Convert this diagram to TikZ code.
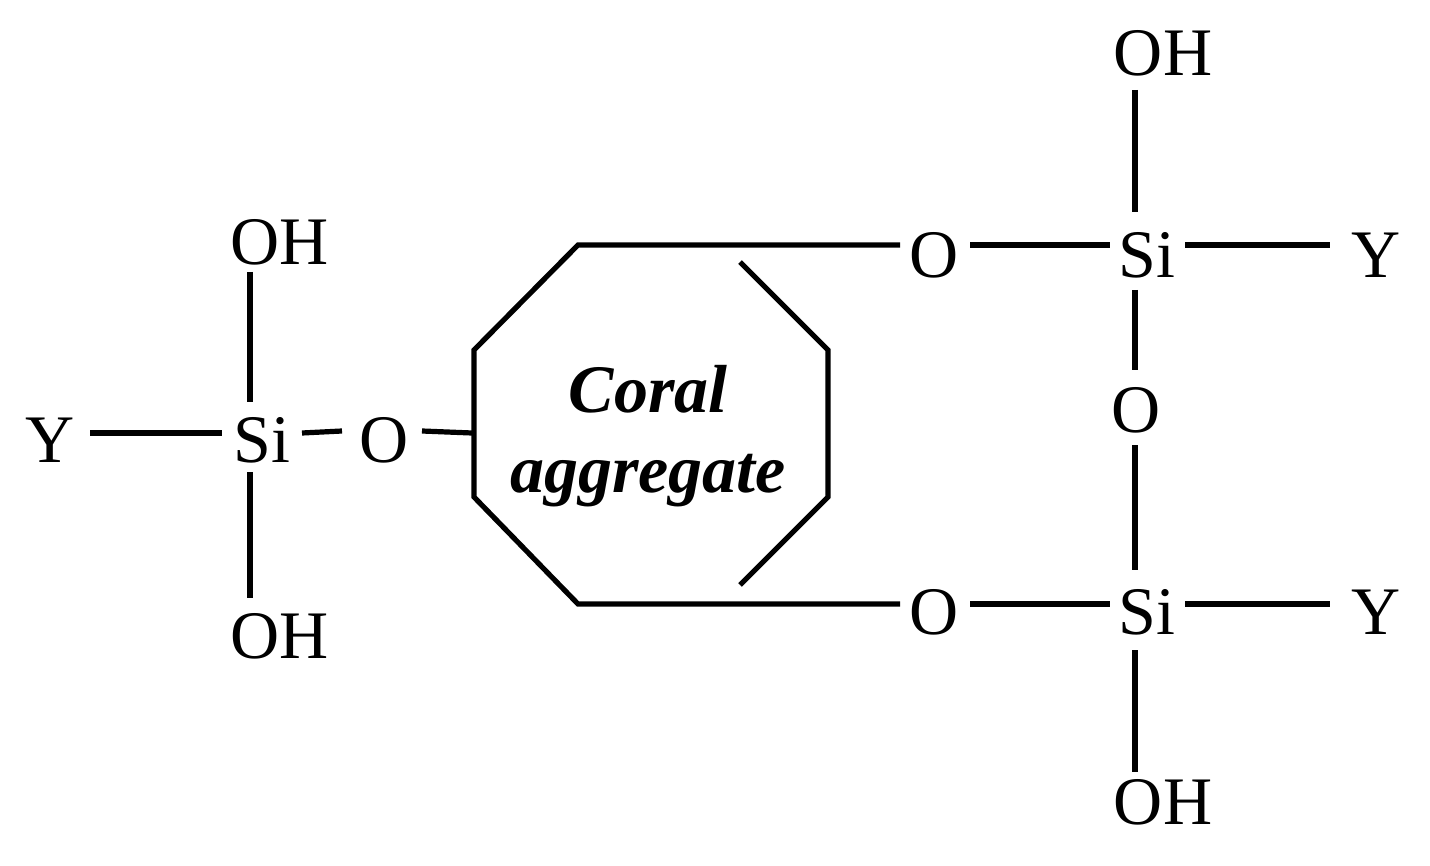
\documentclass[tikz,border=0pt]{standalone}
\usepackage{fontspec}
\setmainfont{Liberation Serif}
\begin{document}
\begin{tikzpicture}[x=0.5pt,y=-0.5pt,
  lbl/.style={font=\fontsize{34}{36}\selectfont,inner sep=0pt},
  bond/.style={line width=2.6pt}]
\useasboundingbox (0,0) rectangle (1430,866);
% right top
\node[lbl] (o1) at (934,255) {O};
\node[lbl] (si1) at (1147,255) {Si};
\node[lbl] (y1) at (1376,255) {Y};
\node[lbl] (oh1) at (1163,53) {OH};
\node[lbl] (om) at (1136,410) {O};
\node[lbl] (o2) at (934,612) {O};
\node[lbl] (si2) at (1147,612) {Si};
\node[lbl] (y2) at (1376,612) {Y};
\node[lbl] (oh2) at (1163,802) {OH};
% left
\node[lbl] (yl) at (50,440) {Y};
\node[lbl] (sil) at (262,440) {Si};
\node[lbl] (ol) at (384,440) {O};
\node[lbl] (ohl1) at (280,242) {OH};
\node[lbl] (ohl2) at (280,636) {OH};
\node[font=\fontsize{34}{37}\selectfont\bfseries\itshape,align=center,inner sep=0pt] (coral) at (648,436) {Coral\\[3pt]aggregate};
% octagon
\coordinate (a1) at (578,245); \coordinate (a2) at (740,262);
\coordinate (b1) at (578,604); \coordinate (b2) at (740,585);
\draw[bond] (900,245) -- (a1) -- (474,350) -- (474,497) -- (b1) -- (900,604);
\draw[bond] (a2) -- (828,350) -- (828,497) -- (b2);
% bonds
\draw[bond] (970,245) -- (1110,245);
\draw[bond] (1185,245) -- (1330,245);
\draw[bond] (1135,90) -- (1135,212);
\draw[bond] (1135,290) -- (1135,370);
\draw[bond] (1135,445) -- (1135,570);
\draw[bond] (1135,650) -- (1135,772);
\draw[bond] (970,604) -- (1110,604);
\draw[bond] (1185,604) -- (1330,604);
\draw[bond] (90,433) -- (222,433);
\draw[bond] (302,433) -- (342,431);
\draw[bond] (422,431) -- (472,433);
\draw[bond] (250,272) -- (250,402);
\draw[bond] (250,472) -- (250,598);
\end{tikzpicture}
\end{document}
